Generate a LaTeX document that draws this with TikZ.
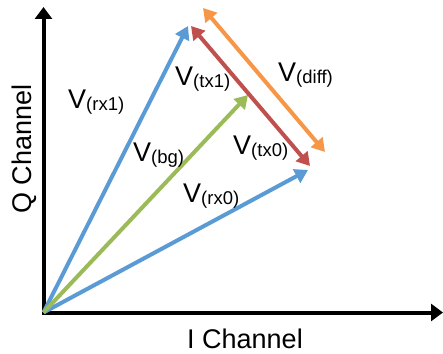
\documentclass[tikz,border=0pt]{standalone}
\usepackage{fontspec}
\setmainfont{Liberation Sans}
\usepackage{xcolor}
\usetikzlibrary{arrows.meta}

\definecolor{vblue}{RGB}{91,155,213}
\definecolor{vgreen}{RGB}{155,187,89}
\definecolor{vred}{RGB}{192,80,77}
\definecolor{vorange}{RGB}{247,150,70}

\newcommand{\vlab}[1]{V\raisebox{-1.5pt}{\fontsize{18.5}{20}\selectfont(#1)}}

\begin{document}
\begin{tikzpicture}[x=1pt, y=1pt, >={Triangle[length=13pt,width=15pt]},
        axis/.style={line width=4pt, line join=miter, {Triangle[length=12pt,width=17pt]}-{Triangle[length=12pt,width=17pt]}},
        vec/.style={line width=4pt},
        lab/.style={anchor=base west, inner sep=0pt, font=\fontsize{27}{30}\selectfont}]
        \useasboundingbox (0,0) rectangle (443,353);

        % end points
        \coordinate (O) at (43.5,40.5);
        \coordinate (Qtip) at (43.5,346);
        \coordinate (Itip) at (443,40.5);
        \coordinate (RX1) at (188,327);
        \coordinate (RX0) at (308,183);
        \coordinate (BG) at (248,258);
        \coordinate (TX1) at (191,327);
        \coordinate (TX0) at (310,187);
        \coordinate (DIFF1) at (203,345);
        \coordinate (DIFF0) at (325,201);

        \draw[axis] (Qtip) -- (O) -- (Itip);

        \draw[vec, ->, vblue] (O) -- (RX1);
        \draw[vec, ->, vblue] (O) -- (RX0);
        \draw[vec, ->, vgreen] (O) -- (BG);
        \draw[vec, <->, vred] (TX1) -- (TX0);
        \draw[vec, <->, vorange] (DIFF1) -- (DIFF0);

        \node[lab] (labRX1) at (68,244) {\vlab{rx1}};
        \node[lab] (labTX1) at (175,267) {\vlab{tx1}};
        \node[lab] (labDIFF) at (278,271) {\vlab{diff}};
        \node[lab] (labBG) at (133,191) {\vlab{bg}};
        \node[lab] (labTX0) at (233,198) {\vlab{tx0}};
        \node[lab] (labRX0) at (183,150) {\vlab{rx0}};

        \node[anchor=base, inner sep=0pt, font=\fontsize{27}{30}\selectfont] (Ilab) at (245,5) {I Channel};
        \node[anchor=base, inner sep=0pt, rotate=90, font=\fontsize{27}{30}\selectfont] (Qlab) at (31,204) {Q Channel};
    \end{tikzpicture}
\end{document}
